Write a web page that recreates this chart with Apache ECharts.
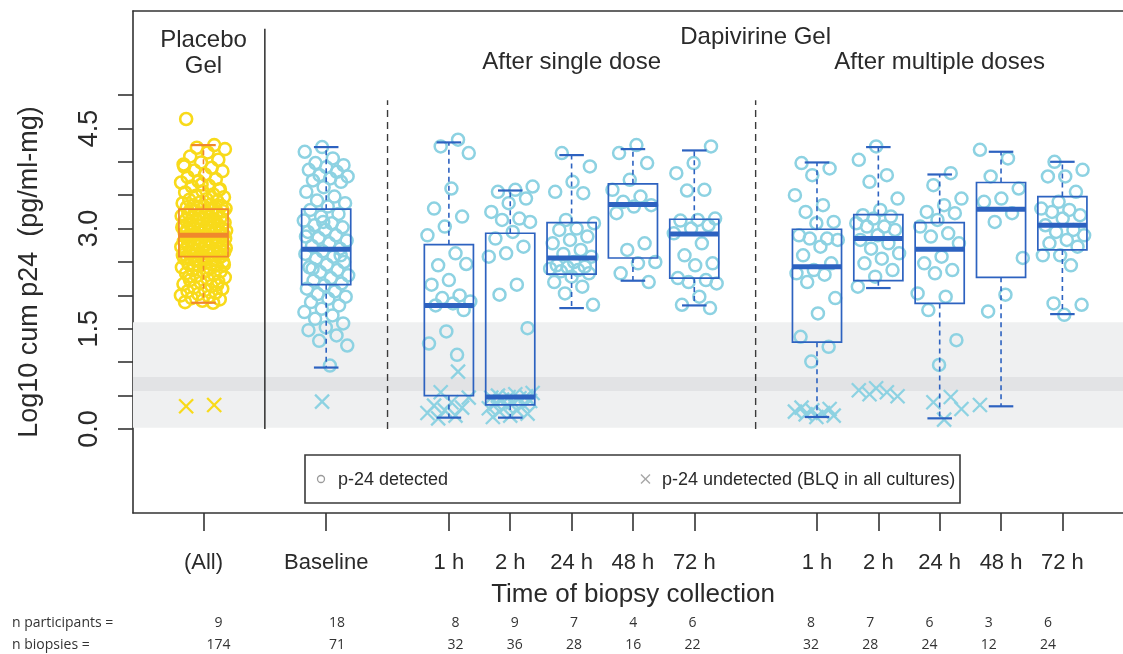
<!DOCTYPE html>
<html>
<head>
<meta charset="utf-8">
<script src="https://cdn.jsdelivr.net/npm/echarts@6/dist/echarts.min.js"></script>
<style>
  html, body { margin: 0; padding: 0; background: #ffffff; }
  #chart { width: 1123px; height: 654px; }
</style>
</head>
<body>
<div id="chart"></div>
<script>
// ---- Data ---------------------------------------------------------------
// Slot of each group on the time axis (gaps at 1, 3 and 9 hold the dividers)
const slots = [0, 2, 4, 5, 6, 7, 8, 10, 11, 12, 13, 14];
const timeLabels = ['(All)', 'Baseline', '1 h', '2 h', '24 h', '48 h', '72 h', '1 h', '2 h', '24 h', '48 h', '72 h'];

// Box statistics (log10 cum p24, pg/ml-mg)
const whiskerLow  = [1.89, 0.92, 0.17, 0.17, 1.81, 2.22, 1.85, 0.18, 2.11, 0.16, 0.34, 1.72];
const quartile1   = [2.58, 2.16, 0.50, 0.36, 2.32, 2.56, 2.26, 1.30, 2.22, 1.88, 2.27, 2.68];
const medians     = [2.90, 2.69, 1.85, 0.48, 2.56, 3.36, 2.92, 2.43, 2.85, 2.69, 3.29, 3.05];
const quartile3   = [3.29, 3.29, 2.76, 2.93, 3.09, 3.67, 3.14, 2.99, 3.21, 3.09, 3.69, 3.48];
const whiskerHigh = [4.25, 4.22, 4.29, 3.57, 4.10, 4.19, 4.17, 3.99, 4.22, 3.81, 4.15, 4.00];

// Individual biopsies with p-24 detected
const placeboDetected = [
  4.64, 4.25, 4.21, 4.19, 4.14, 4.08, 4.03, 3.99, 3.96, 3.91, 3.87, 3.86, 3.81, 3.77, 3.74, 3.71, 3.69, 3.64, 3.63, 3.59, 3.56, 3.54,
  3.51, 3.49, 3.47, 3.44, 3.43, 3.41, 3.39, 3.38, 3.36, 3.35, 3.34, 3.33, 3.32, 3.31, 3.31, 3.30, 3.30, 3.29, 3.58, 3.66, 3.93,
  3.28, 3.27, 3.26, 3.24, 3.23, 3.22, 3.21, 3.19, 3.18, 3.17, 3.16, 3.14, 3.13, 3.12, 3.11, 3.09, 3.08, 3.07, 3.06, 3.05, 3.04, 3.03,
  3.02, 3.01, 3.00, 2.99, 2.98, 2.98, 2.97, 2.96, 2.95, 2.94, 2.94, 2.93, 2.92, 2.92, 2.91, 2.91, 2.90, 3.25, 3.15, 3.02, 2.96,
  2.89, 2.89, 2.88, 2.87, 2.87, 2.86, 2.85, 2.84, 2.83, 2.83, 2.82, 2.81, 2.80, 2.79, 2.78, 2.77, 2.76, 2.75, 2.74, 2.73, 2.72, 2.71,
  2.70, 2.69, 2.68, 2.67, 2.66, 2.65, 2.64, 2.63, 2.62, 2.61, 2.60, 2.60, 2.59, 2.59, 2.58, 2.58, 2.85, 2.76, 2.71, 2.66, 2.63,
  2.57, 2.56, 2.55, 2.53, 2.52, 2.50, 2.49, 2.47, 2.45, 2.44, 2.42, 2.40, 2.38, 2.36, 2.35, 2.33, 2.31, 2.29, 2.27, 2.25, 2.23, 2.21,
  2.19, 2.17, 2.14, 2.12, 2.10, 2.08, 2.06, 2.04, 2.02, 2.00, 1.98, 1.96, 1.94, 1.92, 1.90, 1.89, 2.54, 2.46, 2.37, 2.28, 2.16
];
const baselineDetected = [
  4.22, 4.15, 4.05, 3.98, 3.95, 3.92, 3.88, 3.85, 3.80, 3.78, 3.75, 3.72, 3.70, 3.62, 3.55, 3.48, 3.42, 3.38, 3.33, 3.28,
  3.22, 3.18, 3.12, 3.08, 3.05, 3.02, 2.98, 2.95, 2.90, 2.86, 2.82, 2.78, 2.74, 2.70, 2.66, 2.62, 2.58, 2.55, 2.50, 2.46,
  2.42, 2.38, 2.35, 2.30, 2.26, 2.22, 2.18, 2.15, 2.10, 2.06, 2.02, 1.98, 1.95, 1.90, 1.85, 1.80, 1.75, 1.70, 1.65, 1.58,
  1.52, 1.48, 1.40, 1.32, 1.25, 0.95, 2.40, 2.60, 3.10, 2.88
];
const single1hDetected  = [4.33, 4.23, 4.13, 3.60, 3.30, 3.18, 3.03, 2.90, 2.63, 2.45, 2.47, 2.23, 2.16, 2.00, 1.96, 1.91, 1.88, 1.85, 1.78, 1.46, 1.28, 1.11];
const single2hDetected  = [3.63, 3.58, 3.55, 3.45, 3.38, 3.25, 3.15, 3.13, 3.10, 2.95, 2.85, 2.73, 2.63, 2.58, 2.16, 2.01, 1.51];
const single24hDetected = [4.13, 3.93, 3.70, 3.55, 3.53, 3.13, 3.08, 3.00, 2.98, 2.88, 2.83, 2.78, 2.68, 2.62, 2.58, 2.50, 2.45, 2.43, 2.42, 2.40, 2.38, 2.36, 2.33, 2.28, 2.20, 2.13, 2.03, 1.86];
const single48hDetected = [4.25, 4.13, 3.98, 3.73, 3.58, 3.48, 3.40, 3.35, 3.33, 3.23, 2.78, 2.68, 2.50, 2.48, 2.33, 2.20];
const single72hDetected = [4.23, 3.98, 3.83, 3.58, 3.57, 3.15, 3.13, 3.12, 3.05, 3.00, 2.93, 2.78, 2.60, 2.48, 2.45, 2.26, 2.23, 2.20, 2.18, 1.98, 1.86, 1.81];
const multi1hDetected   = [3.98, 3.90, 3.80, 3.50, 3.35, 3.25, 3.10, 3.08, 2.90, 2.85, 2.85, 2.83, 2.73, 2.60, 2.48, 2.38, 2.33, 2.31, 2.20, 1.96, 1.73, 1.38, 1.23, 1.01];
const multi2hDetected   = [4.23, 4.03, 3.80, 3.70, 3.45, 3.28, 3.20, 3.18, 3.15, 3.08, 3.03, 3.03, 2.98, 2.90, 2.83, 2.78, 2.70, 2.63, 2.55, 2.48, 2.38, 2.28, 2.13];
const multi24hDetected  = [3.83, 3.65, 3.45, 3.35, 3.25, 3.23, 3.13, 3.03, 2.93, 2.88, 2.78, 2.58, 2.48, 2.38, 2.33, 2.03, 1.98, 1.78, 1.33, 0.96];
const multi48hDetected  = [4.18, 4.05, 3.78, 3.60, 3.45, 3.40, 3.23, 3.10, 2.56, 2.01, 1.76];
const multi72hDetected  = [4.00, 3.88, 3.78, 3.78, 3.55, 3.40, 3.30, 3.28, 3.25, 3.20, 3.15, 3.05, 2.98, 2.95, 2.90, 2.83, 2.78, 2.73, 2.60, 2.60, 2.45, 1.88, 1.86, 1.71];

// Biopsies with p-24 below the limit of quantification in all cultures
const placeboUndetected  = [0.34, 0.36];
const baselineUndetected = [0.41];
const single1hUndetected = [0.86, 0.55, 0.47, 0.40, 0.35, 0.32, 0.28, 0.24, 0.20, 0.16];
const single2hUndetected = [0.54, 0.52, 0.50, 0.49, 0.48, 0.47, 0.46, 0.44, 0.42, 0.40, 0.38, 0.36, 0.34, 0.31, 0.28, 0.26, 0.23, 0.20, 0.18];
const multi1hUndetected  = [0.32, 0.30, 0.28, 0.26, 0.24, 0.22, 0.20, 0.18];
const multi2hUndetected  = [0.61, 0.58, 0.55, 0.52, 0.49];
const multi24hUndetected = [0.48, 0.40, 0.30, 0.14];
const multi48hUndetected = [0.36];

const detectedByGroup = [placeboDetected, baselineDetected, single1hDetected, single2hDetected, single24hDetected,
  single48hDetected, single72hDetected, multi1hDetected, multi2hDetected, multi24hDetected, multi48hDetected, multi72hDetected];
const undetectedByGroup = [placeboUndetected, baselineUndetected, single1hUndetected, single2hUndetected, [], [], [],
  multi1hUndetected, multi2hUndetected, multi24hUndetected, multi48hUndetected, []];

const nParticipants = [9, 18, 8, 9, 7, 4, 6, 8, 7, 6, 3, 6];
const nBiopsies = [174, 71, 32, 36, 28, 16, 22, 32, 28, 24, 12, 24];

// Axis ticks
const yTickValues = [0, 0.5, 1, 1.5, 2, 2.5, 3, 3.5, 4, 4.5, 5];
const yLabelValues = [0, 1.5, 3, 4.5];

// Shaded reference bands
const bandOuter = [0.02, 1.60];
const bandInner = [0.57, 0.78];

// ---- Styling ------------------------------------------------------------
const FONT = "'Liberation Sans', Arial, Helvetica, sans-serif";
const TEXT = '#2a2a2a';
const FRAME = '#333333';
const BLUE_BOX = '#2d62c0';
const BLUE_PT = '#8dd2e2';
const ORANGE_BOX = '#f0872c';
const YELLOW_PT = '#f8da1a';
const BOX_WIDTH = 0.8;       // in slot units
const JITTER = 0.74;         // total horizontal spread of points, slot units

// Deterministic low-discrepancy horizontal offset for point i of group g
function spread(i, g) {
  const t = (0.5 + (i + 1) * 0.6180339887 + g * 0.2917) % 1;
  return (t - 0.5) * JITTER;
}

function pointsFor(lists, groupFilter) {
  const out = [];
  lists.forEach((vals, g) => {
    if (!groupFilter(g)) return;
    vals.forEach((v, i) => out.push([slots[g] + spread(i, g), v]));
  });
  return out;
}

function boxRows(groupFilter) {
  const rows = [];
  slots.forEach((s, g) => {
    if (!groupFilter(g)) return;
    rows.push([s, whiskerLow[g], quartile1[g], medians[g], quartile3[g], whiskerHigh[g]]);
  });
  return rows;
}

const isPlacebo = g => g === 0;
const isDrug = g => g !== 0;

function renderBox(color) {
  return function (params, api) {
    const x = api.value(0);
    const lo = api.coord([x, api.value(1)]);
    const q1 = api.coord([x, api.value(2)]);
    const md = api.coord([x, api.value(3)]);
    const q3 = api.coord([x, api.value(4)]);
    const hi = api.coord([x, api.value(5)]);
    const half = api.size([BOX_WIDTH, 0])[0] / 2;
    const cap = half * 0.5;
    const cx = md[0];
    const dash = { stroke: color, lineWidth: 1.6, lineDash: [5, 4], fill: null };
    const solid = { stroke: color, lineWidth: 2.2, fill: null };
    return {
      type: 'group',
      children: [
        { type: 'line', shape: { x1: cx, y1: q3[1], x2: cx, y2: hi[1] }, style: dash },
        { type: 'line', shape: { x1: cx, y1: q1[1], x2: cx, y2: lo[1] }, style: dash },
        { type: 'line', shape: { x1: cx - cap, y1: hi[1], x2: cx + cap, y2: hi[1] }, style: solid },
        { type: 'line', shape: { x1: cx - cap, y1: lo[1], x2: cx + cap, y2: lo[1] }, style: solid },
        { type: 'rect', shape: { x: cx - half, y: q3[1], width: half * 2, height: q1[1] - q3[1] },
          style: { stroke: color, lineWidth: 1.7, fill: null } },
        { type: 'line', shape: { x1: cx - half, y1: md[1], x2: cx + half, y2: md[1] },
          style: { stroke: color, lineWidth: 5 } }
      ]
    };
  };
}

function renderCross(color) {
  return function (params, api) {
    const p = api.coord([api.value(0), api.value(1)]);
    const r = 7;
    const st = { stroke: color, lineWidth: 2.3 };
    return {
      type: 'group',
      children: [
        { type: 'line', shape: { x1: p[0] - r, y1: p[1] - r, x2: p[0] + r, y2: p[1] + r }, style: st },
        { type: 'line', shape: { x1: p[0] - r, y1: p[1] + r, x2: p[0] + r, y2: p[1] - r }, style: st }
      ]
    };
  };
}

// Vertical dividers between the study arms
const dividers = [
  { slot: 1, top: 5.99, dashed: false },
  { slot: 3, top: 4.92, dashed: true },
  { slot: 9, top: 4.92, dashed: true }
];

function renderDivider(params, api) {
  const d = dividers[params.dataIndex];
  const a = api.coord([d.slot, 0]);
  const b = api.coord([d.slot, d.top]);
  return {
    type: 'line',
    shape: { x1: a[0], y1: a[1], x2: b[0], y2: b[1] },
    style: d.dashed ? { stroke: '#3a3a3a', lineWidth: 1.4, lineDash: [7, 5] } : { stroke: '#3a3a3a', lineWidth: 1.6 }
  };
}

// ---- Chart --------------------------------------------------------------
// The plot frame is open on the right: only bottom, left and top edges are drawn.
const GRID = { left: 133, top: 11, right: 0, bottom: 141 };
const X_MIN = -1.149, X_MAX = 14.988;
const Y_MIN = -1.257, Y_MAX = 6.257;

const chart = echarts.init(document.getElementById('chart'), null, { renderer: 'canvas' });

const option = {
  animation: false,
  backgroundColor: '#ffffff',
  grid: GRID,
  xAxis: [
    {
      type: 'value', min: X_MIN, max: X_MAX, position: 'bottom',
      axisLine: { show: true, onZero: false, lineStyle: { color: FRAME, width: 1.6 } },
      splitLine: { show: false },
      axisTick: { show: true, customValues: slots, length: 18, lineStyle: { color: FRAME, width: 1.6 } },
      axisLabel: {
        customValues: slots,
        formatter: v => timeLabels[slots.indexOf(Math.round(v))] || '',
        margin: 39, fontSize: 22, fontFamily: FONT, color: TEXT
      }
    },
    {
      type: 'value', min: X_MIN, max: X_MAX, position: 'top',
      axisLine: { show: true, onZero: false, lineStyle: { color: FRAME, width: 1.6 } },
      axisTick: { show: false }, axisLabel: { show: false }, splitLine: { show: false }
    }
  ],
  yAxis: {
    type: 'value', min: Y_MIN, max: Y_MAX, position: 'left',
    axisLine: { show: true, onZero: false, lineStyle: { color: FRAME, width: 1.6 } },
    splitLine: { show: false },
    axisTick: { show: true, customValues: yTickValues, length: 15, lineStyle: { color: FRAME, width: 1.6 } },
    axisLabel: {
      customValues: yLabelValues,
      formatter: v => Number(v).toFixed(1),
      rotate: 90, margin: 30, fontSize: 27, fontFamily: FONT, color: TEXT
    }
  },
  series: [
    {
      name: 'bands', type: 'scatter', data: [], silent: true, z: 1,
      markArea: {
        silent: true,
        data: [
          [{ yAxis: bandOuter[0], itemStyle: { color: '#eff0f1' } }, { yAxis: bandOuter[1] }],
          [{ yAxis: bandInner[0], itemStyle: { color: '#e2e3e5' } }, { yAxis: bandInner[1] }]
        ]
      }
    },
    {
      name: 'dividers', type: 'custom', z: 2, silent: true,
      data: dividers.map(d => [d.slot, d.top]),
      renderItem: renderDivider, clip: false
    },
    {
      name: 'placebo detected', type: 'scatter', z: 3, silent: true,
      data: pointsFor(detectedByGroup, isPlacebo),
      symbol: 'circle', symbolSize: 12,
      itemStyle: { color: 'rgba(255,255,255,0)', borderColor: YELLOW_PT, borderWidth: 2.6, opacity: 1 }
    },
    {
      name: 'dapivirine detected', type: 'scatter', z: 3, silent: true,
      data: pointsFor(detectedByGroup, isDrug),
      symbol: 'circle', symbolSize: 12,
      itemStyle: { color: 'rgba(255,255,255,0)', borderColor: BLUE_PT, borderWidth: 2.5, opacity: 1 }
    },
    {
      name: 'placebo undetected', type: 'custom', z: 3, silent: true,
      data: pointsFor(undetectedByGroup, isPlacebo),
      renderItem: renderCross(YELLOW_PT)
    },
    {
      name: 'dapivirine undetected', type: 'custom', z: 3, silent: true,
      data: pointsFor(undetectedByGroup, isDrug),
      renderItem: renderCross(BLUE_PT)
    },
    {
      name: 'placebo box', type: 'custom', z: 4, silent: true,
      data: boxRows(isPlacebo), renderItem: renderBox(ORANGE_BOX)
    },
    {
      name: 'dapivirine box', type: 'custom', z: 4, silent: true,
      data: boxRows(isDrug), renderItem: renderBox(BLUE_BOX)
    }
  ]
};

chart.setOption(option);

// ---- Text annotations: arm headers, axis titles, legend, counts ---------
function slotX(s) { return chart.convertToPixel({ xAxisIndex: 0 }, s); }

const baseText = { fontSize: 24, fontFamily: FONT, fill: TEXT, align: 'center', verticalAlign: 'middle' };
function text(x, y, str, extra, props) {
  return Object.assign({ type: 'text', x: x, y: y, silent: true, z: 10,
    style: Object.assign({}, baseText, { text: str }, extra || {}) }, props || {});
}

const TABLE_FONT = "'Open Sans', 'Noto Sans', sans-serif";
const tableStyle = { fontSize: 14, fontFamily: TABLE_FONT, fill: '#333' };
const tableOrigin = 218.5, tableStep = 59.25;
const tableCells = [];
slots.forEach((s, g) => {
  const x = tableOrigin + s * tableStep;
  tableCells.push(text(x, 623, String(nParticipants[g]), tableStyle));
  tableCells.push(text(x, 645, String(nBiopsies[g]), tableStyle));
});

const legendY = 479;
chart.setOption({
  graphic: [
    text(slotX(0), 40, 'Placebo'),
    text(slotX(0), 66, 'Gel'),
    text(slotX(9), 37, 'Dapivirine Gel'),
    text(slotX(6), 62, 'After single dose'),
    text(slotX(12), 62, 'After multiple doses'),
    text(30, 272, 'Log10 cum p24  (pg/ml-mg)', { fontSize: 27 }, { rotation: Math.PI / 2 }),
    text(633, 595, 'Time of biopsy collection', { fontSize: 26 }),
    // legend box
    { type: 'rect', z: 10, silent: true, shape: { x: 305, y: 455, width: 655, height: 48 },
      style: { fill: '#ffffff', stroke: '#3a3a3a', lineWidth: 1.6 } },
    { type: 'circle', z: 11, silent: true, shape: { cx: 321, cy: legendY, r: 3.5 },
      style: { fill: null, stroke: '#9a9a9a', lineWidth: 1.3 } },
    text(338, legendY + 1, 'p-24 detected', { fontSize: 18, align: 'left' }, { z: 11 }),
    { type: 'line', z: 11, silent: true, shape: { x1: 641, y1: legendY - 4.5, x2: 650, y2: legendY + 4.5 },
      style: { stroke: '#a8a8a8', lineWidth: 1.5 } },
    { type: 'line', z: 11, silent: true, shape: { x1: 641, y1: legendY + 4.5, x2: 650, y2: legendY - 4.5 },
      style: { stroke: '#a8a8a8', lineWidth: 1.5 } },
    text(662, legendY + 1, 'p-24 undetected (BLQ in all cultures)', { fontSize: 18, align: 'left' }, { z: 11 }),
    // counts table
    text(12, 623, 'n participants =', Object.assign({ align: 'left' }, tableStyle)),
    text(12, 645, 'n biopsies =', Object.assign({ align: 'left' }, tableStyle))
  ].concat(tableCells)
});
</script>
</body>
</html>
